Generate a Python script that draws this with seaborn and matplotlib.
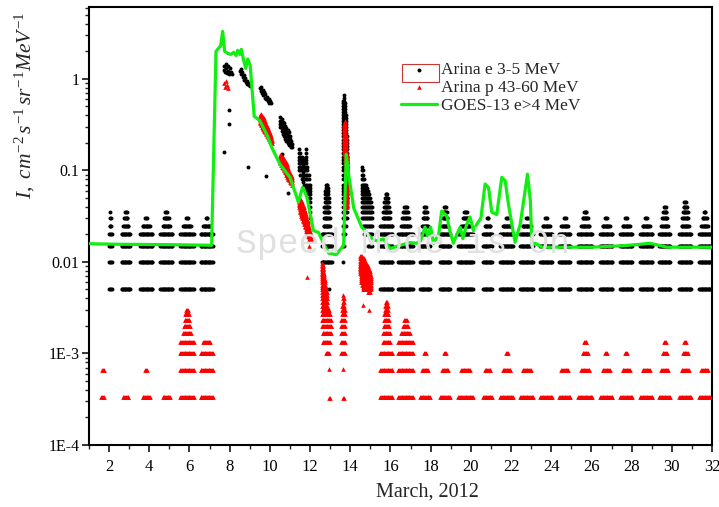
import numpy as np
import pandas as pd
import seaborn as sns
import matplotlib.pyplot as plt
from matplotlib.patches import Rectangle
from matplotlib.ticker import FixedLocator, FixedFormatter, LogLocator, NullFormatter

# GOES-13 e>4 MeV flux
goes_day = [1.0, 2.5, 4.0, 5.5, 7.1, 7.32, 7.55, 7.65, 7.75, 7.9, 8.05, 8.2, 8.32, 8.4, 8.5,
            8.58, 8.68, 8.8, 8.9, 9.02, 9.22, 9.5, 9.87, 10.1, 10.5, 11.0, 11.42, 11.62, 11.72,
            11.85, 12.17, 12.42, 12.67, 12.92, 13.3, 13.67, 13.8, 13.92, 14.17, 14.57, 15.07,
            15.3, 15.65, 15.98, 16.48, 16.98, 17.3, 17.5, 17.72, 17.85, 18.0, 18.14, 18.4, 18.55,
            18.8, 18.95, 19.13, 19.3, 19.47, 19.6, 19.8, 19.96, 20.13, 20.35, 20.5, 20.71, 20.88,
            21.04, 21.29, 21.54, 21.71, 21.87, 22.05, 22.2, 22.46, 22.82, 22.96, 23.04, 23.2,
            23.54, 24.78, 26.0, 27.5, 28.3, 28.92, 29.76, 32.0]
goes_flux = [0.0158, 0.0156, 0.0155, 0.0154, 0.0152, 2.0, 2.3, 3.3, 2.0, 1.9, 1.85, 1.95, 1.8,
             2.05, 1.85, 2.1, 1.65, 1.3, 1.65, 1.4, 0.39, 0.35, 0.24, 0.177, 0.117, 0.084, 0.045,
             0.065, 0.06, 0.05, 0.022, 0.021, 0.016, 0.0125, 0.012, 0.0152, 0.15, 0.09, 0.039,
             0.024, 0.018, 0.017, 0.0178, 0.014, 0.0152, 0.0163, 0.016, 0.017, 0.024, 0.019, 0.024,
             0.016, 0.02, 0.036, 0.032, 0.022, 0.016, 0.02, 0.024, 0.018, 0.026, 0.031, 0.022,
             0.027, 0.03, 0.071, 0.065, 0.035, 0.033, 0.084, 0.077, 0.043, 0.025, 0.0164, 0.026,
             0.091, 0.047, 0.0152, 0.016, 0.0145, 0.0145, 0.0145, 0.015, 0.0155, 0.016, 0.0145,
             0.0145]

# Arina count quanta (flux of one count)
E_STEP = 0.005
P_STEP = 1 / 3000

# quiet passes: start/end day, electron counts (lowest, full dash up to, top), proton counts (full, top)
pass_t0 = [1.62, 2.00, 2.62, 3.55, 4.55, 5.55, 6.55, 12.58, 15.50, 16.40, 17.48, 18.47, 19.37,
           20.61, 21.46, 22.45, 23.45, 24.40, 25.34, 26.44, 27.43, 28.43, 29.37, 30.37, 31.36]
pass_t1 = [1.75, 2.12, 3.05, 4.15, 5.15, 6.20, 7.15, 13.08, 16.10, 17.10, 17.97, 18.97, 20.10,
           21.06, 22.10, 23.10, 24.05, 24.94, 26.04, 27.04, 28.03, 29.03, 29.92, 30.97, 31.91]
e_lo = [1, 1, 1, 1, 1, 1, 1, 2, 1, 1, 1, 1, 1, 1, 1, 1, 1, 1, 1, 1, 1, 1, 1, 1, 1]
e_full = [0, 4, 4, 4, 4, 4, 4, 4, 5, 4, 4, 4, 4, 4, 4, 4, 4, 4, 4, 4, 4, 4, 4, 4, 4]
e_top = [0, 7, 7, 6, 7, 6, 6, 14, 11, 8, 8, 8, 7, 6, 6, 6, 6, 6, 7, 6, 6, 6, 8, 9, 7]
p_full = [1, 0, 0, 0, 0, 4, 3, 0, 3, 4, 1, 1, 1, 1, 1, 1, 1, 1, 1, 1, 1, 1, 1, 1, 1]
p_top = [2, 0, 1, 2, 1, 9, 4, 0, 11, 7, 3, 3, 2, 2, 3, 2, 1, 2, 4, 3, 3, 2, 4, 4, 2]

# electron event points
e_pt_day = [7.72, 7.74, 7.77, 7.80, 7.83, 7.86, 7.90, 7.94, 7.98, 8.02, 8.06, 8.10, 7.98, 7.98, 7.73,
            8.52, 8.55, 8.58, 8.62, 8.66, 8.70, 8.73, 8.77, 8.80, 8.84, 8.88, 8.92, 8.96, 9.00, 8.93,
            9.52, 9.55, 9.58, 9.62, 9.65, 9.68, 9.72, 9.75, 9.78, 9.82, 9.86, 9.90, 9.94, 9.98,
            10.02, 10.06, 9.81, 10.92, 10.62, 12.95]
e_pt_val = [1.25, 1.40, 1.18, 1.45, 1.30, 1.15, 1.38, 1.22, 1.12, 1.30, 1.18, 1.12, 0.46, 0.32, 0.157,
            1.22, 1.28, 1.12, 1.20, 1.05, 1.10, 0.98, 1.02, 0.92, 0.96, 0.88, 0.90, 0.85, 0.84, 0.11,
            0.80, 0.74, 0.82, 0.70, 0.76, 0.66, 0.72, 0.62, 0.68, 0.60, 0.64, 0.57, 0.60, 0.55,
            0.58, 0.54, 0.087, 0.057, 0.15, 0.005]

# electron event clouds: day, lowest and highest flux seen
e_span_day = [10.52, 10.58, 10.64, 10.70, 10.76, 10.82, 10.88, 10.94, 11.00, 11.06, 11.12,
              11.45, 11.52, 11.58, 11.65, 11.72, 11.80, 11.87, 11.94, 12.00,
              13.66, 13.70, 13.74, 13.78, 13.82, 13.86,
              14.58, 14.63, 14.68, 14.73, 14.78, 14.83, 14.88, 14.93, 14.98, 15.03, 15.08]
e_span_lo = [0.30, 0.27, 0.25, 0.24, 0.22, 0.21, 0.20, 0.19, 0.19, 0.18, 0.18,
             0.10, 0.09, 0.08, 0.075, 0.07, 0.06, 0.055, 0.05, 0.03,
             0.010, 0.012, 0.02, 0.025, 0.03, 0.05,
             0.03, 0.025, 0.02, 0.02, 0.02, 0.02, 0.015, 0.015, 0.015, 0.015, 0.015]
e_span_hi = [0.39, 0.38, 0.36, 0.33, 0.31, 0.30, 0.28, 0.26, 0.24, 0.22, 0.20,
             0.18, 0.16, 0.15, 0.14, 0.13, 0.18, 0.11, 0.09, 0.07,
             0.6, 0.7, 0.55, 0.4, 0.25, 0.15,
             0.11, 0.10, 0.085, 0.075, 0.07, 0.065, 0.06, 0.055, 0.05, 0.045, 0.04]

# proton event points
p_pt_day = [7.72, 7.75, 7.80, 7.85, 7.90, 11.93, 11.85, 12.92, 12.99, 12.95, 13.62, 13.70, 13.65,
            14.64, 14.94]
p_pt_val = [0.90, 0.82, 0.95, 0.85, 0.80, 0.015, 0.0068, 0.00033, 0.00033, 0.00067, 0.00033,
            0.00033, 0.00067, 0.0034, 0.0030]

# proton event clouds
p_span_day = [9.50, 9.55, 9.60, 9.65, 9.70, 9.75, 9.80, 9.85, 9.90, 9.95, 10.00, 10.05, 10.10,
              10.50, 10.55, 10.60, 10.65, 10.70, 10.75, 10.80, 10.85, 10.90, 10.95, 11.00, 11.05, 11.10,
              11.45, 11.50, 11.55, 11.60, 11.65, 11.70, 11.75, 11.80, 11.85, 11.90, 11.95, 12.00, 12.05,
              12.58, 12.62, 12.66, 12.70, 12.74, 12.78, 12.82, 12.86, 12.90, 12.94, 12.98, 13.02, 13.06,
              13.70, 13.74, 13.78, 13.82,
              13.52, 13.58, 13.64, 13.70, 13.76,
              14.50, 14.55, 14.60, 14.65, 14.70, 14.75, 14.80, 14.85, 14.90, 14.95, 15.00, 15.05]
p_span_lo = [0.33, 0.31, 0.30, 0.28, 0.27, 0.26, 0.25, 0.24, 0.23, 0.22, 0.21, 0.20, 0.20,
             0.12, 0.115, 0.11, 0.105, 0.10, 0.095, 0.09, 0.085, 0.08, 0.078, 0.075, 0.072, 0.07,
             0.04, 0.035, 0.032, 0.03, 0.028, 0.026, 0.024, 0.022, 0.02, 0.019, 0.018, 0.017, 0.017,
             0.002, 0.0013, 0.0013, 0.0013, 0.0013, 0.001, 0.001, 0.001, 0.001, 0.001, 0.0013, 0.0016, 0.002,
             0.15, 0.12, 0.06, 0.04,
             0.001, 0.001, 0.001, 0.001, 0.001,
             0.0075, 0.006, 0.0055, 0.005, 0.005, 0.0047, 0.0047, 0.0047, 0.0045, 0.0045, 0.0045, 0.005]
p_span_hi = [0.42, 0.42, 0.41, 0.39, 0.37, 0.35, 0.33, 0.31, 0.30, 0.28, 0.26, 0.24, 0.22,
             0.15, 0.15, 0.145, 0.14, 0.135, 0.13, 0.125, 0.12, 0.11, 0.10, 0.095, 0.09, 0.085,
             0.05, 0.05, 0.048, 0.045, 0.042, 0.04, 0.036, 0.033, 0.03, 0.028, 0.025, 0.022, 0.02,
             0.0102, 0.0095, 0.0085, 0.0075, 0.0065, 0.0055, 0.0048, 0.004, 0.0033, 0.003, 0.0027, 0.0025, 0.0023,
             0.33, 0.35, 0.25, 0.15,
             0.0025, 0.0035, 0.0045, 0.004, 0.003,
             0.012, 0.0123, 0.012, 0.011, 0.011, 0.0105, 0.01, 0.0095, 0.009, 0.0085, 0.008, 0.007]


def pass_points(lo, full, top, step, dt=0.04):
    days, vals = [], []
    for t0, t1, a, f, b in zip(pass_t0, pass_t1, lo, full, top):
        c, w = (t0 + t1) / 2, t1 - t0
        for k in range(max(a, 1), b + 1):
            if k <= f:
                frac = 1.0
            else:
                frac = 0.6 - 0.45 * (k - f - 1) / max(b - f - 1, 1)
            n = max(1, int(round(w * frac / dt)) + 1)
            ts = np.linspace(c - w * frac / 2, c + w * frac / 2, n) if n > 1 else [c]
            days += list(ts)
            vals += [k * step] * len(ts)
    return days, vals


def span_points(span_day, span_lo, span_hi, step, min_dlog):
    days, vals = [], []
    for t, a, b in zip(span_day, span_lo, span_hi):
        last = None
        for k in range(max(int(np.ceil(a / step - 1e-9)), 1), int(np.floor(b / step + 1e-9)) + 1):
            if last is None or np.log10(k / last) >= min_dlog:
                days.append(t)
                vals.append(k * step)
                last = k
    return days, vals


d1, v1 = pass_points(e_lo, e_full, e_top, E_STEP)
d2, v2 = span_points(e_span_day, e_span_lo, e_span_hi, E_STEP, 0.03)
electrons = pd.DataFrame({'day': d1 + d2 + e_pt_day, 'flux': v1 + v2 + e_pt_val})

d1, v1 = pass_points([1] * len(pass_t0), p_full, p_top, P_STEP)
d2, v2 = span_points(p_span_day, p_span_lo, p_span_hi, P_STEP, 0.015)
protons = pd.DataFrame({'day': d1 + d2 + p_pt_day, 'flux': v1 + v2 + p_pt_val})

goes = pd.DataFrame({'day': goes_day, 'flux': goes_flux})

sns.set_style("ticks")
plt.rcParams['font.family'] = ['Liberation Serif', 'DejaVu Serif']
plt.rcParams['mathtext.fontset'] = 'custom'
plt.rcParams['mathtext.rm'] = 'Liberation Serif'
plt.rcParams['mathtext.it'] = 'Liberation Serif:italic'

fig = plt.figure(figsize=(7.19, 5.07), dpi=100)
ax = fig.add_axes([89 / 719, 62 / 507, 623 / 719, 438 / 507])

fig.text(403 / 719, 1 - 253 / 507, 'Speed Mode is On', family='Liberation Mono',
         fontsize=25, color='#e0e0e0', ha='center', va='baseline', zorder=0)
ax.patch.set_alpha(0)

sns.scatterplot(data=electrons, x='day', y='flux', ax=ax, color='black', marker='o',
                s=8, linewidth=0, label='Arina e 3-5 MeV', zorder=2)
sns.scatterplot(data=protons, x='day', y='flux', ax=ax, color='#ff0000', marker='^',
                s=11, linewidth=0, label='Arina p 43-60 MeV', zorder=3)
sns.lineplot(data=goes, x='day', y='flux', ax=ax, color='#11ee11', linewidth=2.3,
             estimator=None, sort=False, label='GOES-13 e>4 MeV', zorder=4)

ax.set_yscale('log')
ax.set_xlim(1, 32)
ax.set_ylim(1e-4, 6.1)

ax.xaxis.set_major_locator(FixedLocator(list(range(2, 33, 2))))
ax.xaxis.set_minor_locator(FixedLocator(list(range(1, 32, 2))))
ax.yaxis.set_major_locator(FixedLocator([1e-4, 1e-3, 1e-2, 1e-1, 1]))
ax.yaxis.set_major_formatter(FixedFormatter(['1E-4', '1E-3', '0.01', '0.1', '1']))
ax.yaxis.set_minor_locator(LogLocator(base=10, subs=np.arange(2, 10)))
ax.yaxis.set_minor_formatter(NullFormatter())

ax.tick_params(which='major', direction='out', length=5, width=1.1, labelsize=11.5,
               pad=2, top=False, right=False, colors='black')
ax.tick_params(which='minor', direction='out', length=3, width=1.0, top=False, right=False)
ax.tick_params(axis='x', which='major', pad=5, labelsize=12)
for sp in ax.spines.values():
    sp.set_linewidth(1.5)
    sp.set_color('black')
    sp.set_visible(True)

ax.set_xlabel('March, 2012', fontsize=14.5)
ax.xaxis.set_label_coords(0.544, -0.085)
ax.set_ylabel(r'$I,\ cm^{-2}\,s^{-1}\,sr^{-1}MeV^{-1}$', fontsize=15.5)
ax.yaxis.set_label_coords(-0.083, 0.776)

handles, labels = ax.get_legend_handles_labels()
ax.legend(handles, labels, loc='upper left', bbox_to_anchor=(401 / 719, 1 - 62 / 507),
          bbox_transform=fig.transFigure, frameon=False, fontsize=12.5, borderpad=0,
          borderaxespad=0, handlelength=2.1, handletextpad=0.2, labelspacing=0.1)
fig.patches.append(Rectangle((402 / 719, 1 - 82 / 507), 37 / 719, 18 / 507, fill=False,
                             edgecolor='#cc3333', linewidth=0.8, transform=fig.transFigure))

fig.savefig('out.png', dpi=100)
